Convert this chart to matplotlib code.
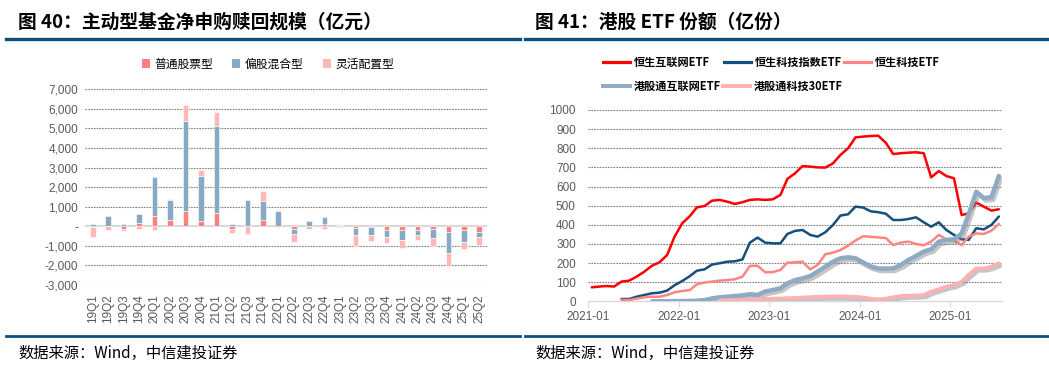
import numpy as np
import pandas as pd
import matplotlib
matplotlib.use("Agg")
import matplotlib.pyplot as plt
import matplotlib.patheffects as pe
from matplotlib.lines import Line2D
from matplotlib.patches import Patch
import datetime as dt

plt.rcParams['font.family'] = ['Liberation Sans', 'Noto Sans CJK SC', 'DejaVu Sans']

# ---------------- data: chart 40 ----------------
quarters = ['19Q1', '19Q2', '19Q3', '19Q4', '20Q1', '20Q2', '20Q3', '20Q4', '21Q1', '21Q2',
            '21Q3', '21Q4', '22Q1', '22Q2', '22Q3', '22Q4', '23Q1', '23Q2', '23Q3', '23Q4',
            '24Q1', '24Q2', '24Q3', '24Q4', '25Q1', '25Q2']
stock_fund = [-50, 20, -150, 150, 530, 300, 770, 270, 660, -150, 10, 300, -60, -150, 40, 100,
              0, -70, -20, -170, -200, -170, -120, -310, -200, -290]
mixed_fund = [130, 520, 100, 480, 1980, 1030, 4590, 2300, 4480, 120, 1320, 980, 770, -230, 240, 380,
              -60, -390, -440, -380, -510, -270, -480, -1040, -600, -270]
flex_fund = [-500, -180, -80, -120, -180, 50, 850, 320, 710, -200, -380, 520, 50, -420, -130, -130,
             70, -550, -310, -310, -400, -270, -390, -670, -360, -380]
bar_names = ['普通股票型', '偏股混合型', '灵活配置型']
yticks_left = [-3000, -2000, -1000, 0, 1000, 2000, 3000, 4000, 5000, 6000, 7000]

# ---------------- data: chart 41 ----------------
months = pd.date_range('2021-01-01', periods=55, freq='MS') + pd.Timedelta(days=14)
nan = np.nan
hs_internet = [73, 77, 80, 77, 103, 108, 129, 155, 186, 204, 242, 338, 408, 446, 491, 498, 526, 530,
               521, 509, 518, 530, 533, 530, 533, 556, 640, 669, 707, 704, 700, 699, 721, 765, 800,
               857, 861, 864, 866, 829, 770, 774, 777, 779, 774, 648, 681, 655, 643, 451, 460, 516,
               495, 474, 481]
hs_tech_index = [nan] * 4 + [12, 12, 24, 33, 42, 45, 56, 84, 106, 132, 160, 167, 192, 199, 207, 209,
                             219, 307, 333, 307, 303, 303, 352, 368, 373, 347, 338, 361, 399, 448, 455,
                             495, 490, 470, 466, 458, 425, 425, 430, 439, 413, 390, 413, 373, 347, 324,
                             321, 382, 376, 399, 443]
hs_tech = [nan] * 4 + [7, 7, 14, 21, 24, 24, 33, 47, 54, 59, 89, 98, 103, 108, 111, 115, 129, 185,
                       186, 152, 152, 164, 202, 204, 207, 167, 190, 246, 254, 268, 291, 318, 340, 337,
                       334, 331, 294, 307, 312, 300, 293, 312, 347, 324, 317, 294, 338, 355, 352, 369,
                       404]
hkc_internet = [nan] * 8 + [0, 0, 0, 1, 1, 2, 3, 6, 15, 21, 24, 28, 31, 37, 33, 51, 59, 68, 94, 111,
                            120, 132, 155, 181, 207, 225, 230, 225, 203, 182, 172, 171, 172, 190, 216,
                            237, 260, 272, 312, 321, 324, 355, 455, 573, 540, 544, 655]
hkc_tech30 = [nan] * 17 + [5, 6, 7, 8, 10, 11, 12, 14, 15, 17, 18, 20, 22, 24, 25, 25, 25, 25, 24,
                           20, 14, 10, 14, 21, 28, 30, 31, 33, 51, 64, 77, 85, 103, 138, 172, 172,
                           181, 199]
line_names = ['恒生互联网ETF', '恒生科技指数ETF', '恒生科技ETF', '港股通互联网ETF', '港股通科技30ETF']
xtick_dates = ['2021-01', '2022-01', '2023-01', '2024-01', '2025-01']

# ---------------- figure ----------------
W, H = 1049, 371
fig = plt.figure(figsize=(W / 100, H / 100), dpi=100)
fig.patch.set_facecolor('white')

def fx(px):
    return px / W

def fy(py):
    return 1 - py / H

CJK = ['Noto Sans CJK SC', 'DejaVu Sans']
TICK_COLOR = '#595959'
GRID_KW = dict(color='#7f7f7f', linestyle=(0, (1.5, 1)), linewidth=0.8)
HEAD_BLUE = '#0d4f7c'

# titles, rules, sources
for x0, x1, xt, title in [(6, 520, 18, '图 40：主动型基金净申购赎回规模（亿元）'),
                          (525, 1049, 535, '图 41：港股 ETF 份额（亿份）')]:
    fig.text(fx(xt), fy(22), title, fontsize=13.5, fontweight='bold', family=CJK,
             va='center', ha='left', color='black')
    fig.add_artist(Line2D([fx(x0), fx(x1)], [fy(38.5), fy(38.5)], transform=fig.transFigure,
                          color=HEAD_BLUE, lw=2.4))
    fig.add_artist(Line2D([fx(x0), fx(x1)], [fy(336), fy(336)], transform=fig.transFigure,
                          color=HEAD_BLUE, lw=2.0))
    fig.text(fx(xt), fy(353), '数据来源：Wind，中信建投证券', fontsize=11, family=CJK,
             va='center', ha='left', color='black')

# ---------------- left: stacked bars ----------------
ax1 = fig.add_axes([fx(85), fy(285), fx(487 - 85), (285 - 89.3) / H])
x = np.arange(len(quarters))
bar_colors = ['#ff8080', '#86aac3', '#ffb7b7']
pos = np.zeros(len(quarters))
neg = np.zeros(len(quarters))
for vals, col, name in zip([stock_fund, mixed_fund, flex_fund], bar_colors, bar_names):
    v = np.array(vals, dtype=float)
    bottom = np.where(v >= 0, pos, neg)
    ax1.bar(x, v, bottom=bottom, width=0.36, color=col, edgecolor='white', linewidth=0.4,
            label=name, zorder=3)
    pos = pos + np.where(v >= 0, v, 0)
    neg = neg + np.where(v < 0, v, 0)

ax1.set_xlim(-0.5, len(quarters) - 0.5)
ax1.set_ylim(-3000, 7000)
ax1.set_yticks(yticks_left)
ax1.set_yticklabels(['-' if t == 0 else f'{t:,}' for t in yticks_left])
for t in yticks_left:
    if t == 0:
        ax1.axhline(0, color='#d9d9d9', lw=1.5, zorder=2)
    else:
        ax1.axhline(t, zorder=1, **GRID_KW)
ax1.set_xticks(x)
ax1.set_xticklabels(quarters, rotation=90)
ax1.tick_params(axis='both', length=0, colors=TICK_COLOR, labelsize=8.5)
ax1.tick_params(axis='y', pad=5)
ax1.tick_params(axis='x', pad=7)
for s in ax1.spines.values():
    s.set_visible(False)
for lab in ax1.get_xticklabels() + ax1.get_yticklabels():
    lab.set_color(TICK_COLOR)

handles = [Patch(facecolor=c, edgecolor='none') for c in bar_colors]
fig.legend(handles, bar_names, loc='center', bbox_to_anchor=(fx(268), fy(64)), ncol=3,
           frameon=False, prop={'family': CJK, 'size': 8.5}, handlelength=0.7, handleheight=0.7,
           handletextpad=0.4, columnspacing=1.6)

# ---------------- right: lines ----------------
ax2 = fig.add_axes([fx(588.3), fy(301.3), fx(1002.3 - 588.3), (301.3 - 110) / H])
shadow = [pe.SimpleLineShadow(offset=(1.5, -1.8), shadow_color='#7f7f7f', alpha=0.45), pe.Normal()]
series = [(hs_internet, '#ff0000', 1.8, None),
          (hs_tech_index, '#154f7d', 1.8, None),
          (hs_tech, '#ff8585', 1.8, None),
          (hkc_internet, '#8eaac4', 3.2, shadow),
          (hkc_tech30, '#ffb1b1', 2.6, shadow)]
for (vals, col, lw, eff), name in zip(series, line_names):
    ln, = ax2.plot(months, vals, color=col, lw=lw, label=name, zorder=3,
                   solid_joinstyle='round', solid_capstyle='round')
    if eff is not None:
        ln.set_path_effects(eff)

ax2.set_ylim(0, 1000)
ax2.set_yticks(range(0, 1001, 100))
for t in range(100, 1001, 100):
    ax2.axhline(t, zorder=1, **GRID_KW)
ax2.set_xlim(dt.date(2021, 1, 1), dt.date(2025, 7, 29))
ax2.set_xticks([pd.Timestamp(d + '-01') for d in xtick_dates])
ax2.set_xticklabels(xtick_dates)
ax2.tick_params(axis='y', length=0, colors=TICK_COLOR, labelsize=8.5, pad=9)
ax2.tick_params(axis='x', length=4, direction='out', color='#d9d9d9', colors=TICK_COLOR,
                labelsize=8.5, pad=3)
for k, s in ax2.spines.items():
    s.set_visible(k == 'bottom')
ax2.spines['bottom'].set_color('#d9d9d9')
ax2.spines['bottom'].set_linewidth(1.0)
for lab in ax2.get_xticklabels() + ax2.get_yticklabels():
    lab.set_color(TICK_COLOR)

# legend: one entry per slot, Excel-like fixed columns
slots = [(603, 62), (724, 62), (844, 62), (603, 86), (723, 86)]
for i, (sx, sy) in enumerate(slots):
    h = Line2D([0], [0], color=series[i][1], lw=2.8 if i >= 3 else 2.3)
    fig.legend([h], [line_names[i]], loc='center left', bbox_to_anchor=(fx(sx), fy(sy)),
               frameon=False, prop={'family': CJK, 'size': 8, 'weight': 'bold'},
               handlelength=2.4, handletextpad=0.35, borderpad=0, borderaxespad=0)

fig.savefig('out.png', dpi=100, facecolor='white')
